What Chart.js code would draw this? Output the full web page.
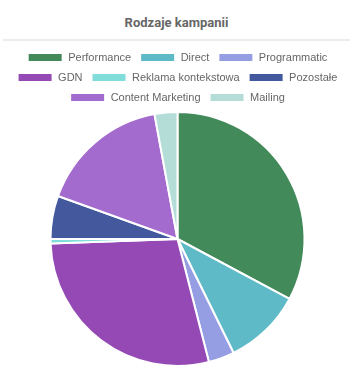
<!DOCTYPE html>
<html>
<head>
<meta charset="utf-8">
<script src="https://cdn.jsdelivr.net/npm/chart.js@4"></script>
<style>
html,body{margin:0;padding:0;background:#fff;}
#hdr{position:absolute;left:3px;top:0;width:347px;height:39px;border-bottom:2px solid #ececec;
 font-family:Roboto,"Liberation Sans",sans-serif;font-weight:bold;font-size:13px;color:#666;
 text-align:center;line-height:46px;}
#wrap{position:absolute;left:0;top:41px;width:355px;height:340px;}
</style>
</head>
<body>
<div id="hdr">Rodzaje kampanii</div>
<div id="wrap"><canvas id="c"></canvas></div>
<script>
const categories = ["Performance","Direct","Programmatic","GDN","Reklama kontekstowa","Pozostałe","Content Marketing","Mailing"];
const values = [32.8, 9.9, 3.3, 28.4, 0.55, 5.5, 16.6, 2.9];
const colors = ["#438a5a","#5fbac7","#969ee3","#9549b5","#80ddd9","#44589e","#a46bcf","#b4ddd7"];

const legendShift = {
  id: 'legendShift',
  beforeInit(chart) {
    const orig = chart.legend.fit;
    chart.legend.fit = function() {
      orig.call(this);
      this.height -= 2;
    };
  }
};

new Chart(document.getElementById('c'), {
  type: 'pie',
  data: {
    labels: categories,
    datasets: [{
      data: values,
      backgroundColor: colors,
      borderColor: '#fff',
      borderWidth: 2
    }]
  },
  plugins: [legendShift],
  options: {
    responsive: true,
    maintainAspectRatio: false,
    animation: false,
    layout: { padding: { top: 2, bottom: 14, left: 0, right: 0 } },
    plugins: {
      tooltip: { enabled: false },
      legend: {
        position: 'top',
        labels: {
          boxWidth: 35,
          boxHeight: 9,
          padding: 9,
          color: '#666',
          font: { family: '"Liberation Sans", Arial, sans-serif', size: 11 }
        }
      }
    }
  }
});
</script>
</body>
</html>
